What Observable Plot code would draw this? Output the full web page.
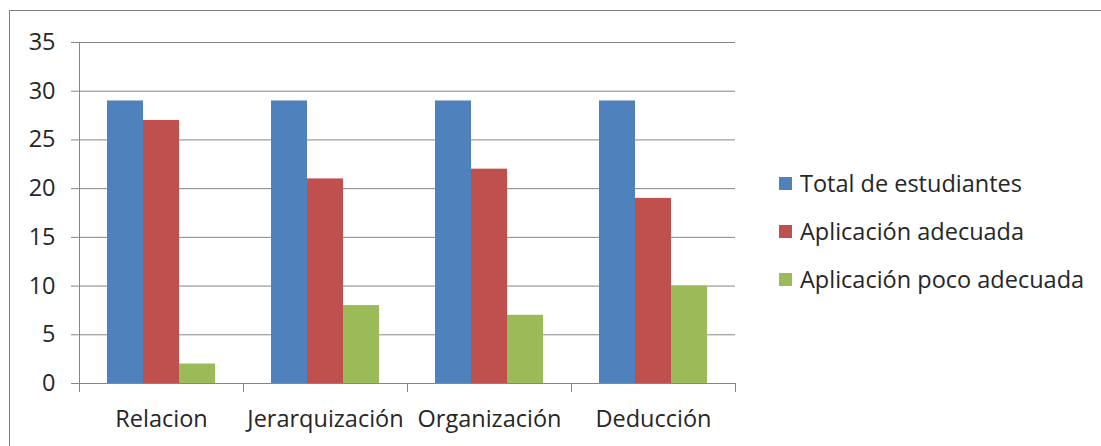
<!DOCTYPE html>
<html><head><meta charset="utf-8">
<script src="https://cdn.jsdelivr.net/npm/d3@7"></script>
<script src="https://cdn.jsdelivr.net/npm/@observablehq/plot@0.6"></script>
<style>
body{margin:0;background:#fff;font-family:"Open Sans",sans-serif;}
#wrap{position:relative;width:1101px;height:446px;overflow:hidden;background:#fff;}
#border{position:absolute;left:9px;top:10px;width:1200px;height:600px;border:1px solid #7f7f7f;box-sizing:border-box;}
#chart{position:absolute;left:0;top:0;}
#legend{position:absolute;left:779px;top:159px;color:#262626;font-size:23.5px;}
.item{display:flex;align-items:center;height:48px;white-space:nowrap;}
.sw{width:13px;height:13px;margin-right:8px;flex:none;}
</style></head>
<body><div id="wrap"><div id="border"></div><div id="chart"></div><div id="legend"></div></div>
<script>
const categories = ["Relacion", "Jerarquización", "Organización", "Deducción"];
const seriesNames = ["Total de estudiantes", "Aplicación adecuada", "Aplicación poco adecuada"];
const totalValues = [29, 29, 29, 29];
const adecuadaValues = [27, 21, 22, 19];
const pocoValues = [2, 8, 7, 10];
const yTicks = [0, 5, 10, 15, 20, 25, 30, 35];
const colors = ["#4F81BD", "#C0504D", "#9BBB59"];

const seriesValues = [totalValues, adecuadaValues, pocoValues];
const data = categories.flatMap((c, i) => seriesNames.map((s, j) => ({cat: c, series: s, value: seriesValues[j][i]})));

const H = 446, MT = 42, MB = 63;
const grey = "#868686";
const FS = 23.5;
const chart = Plot.plot({
  width: 745, height: H,
  marginLeft: 78, marginRight: 10, marginTop: MT, marginBottom: MB,
  style: {fontFamily: "'Open Sans', sans-serif", fontSize: FS + "px", color: "#262626", background: "transparent", overflow: "visible"},
  fx: {domain: categories, padding: 0, label: null, axis: null},
  x: {domain: seriesNames, paddingInner: 0, paddingOuter: 0.75, axis: null},
  y: {domain: [0, 35], ticks: yTicks},
  color: {domain: seriesNames, range: colors},
  marks: [
    Plot.gridY(yTicks, {stroke: grey, strokeOpacity: 1}),
    Plot.axisY(yTicks, {tickSize: 8, tickPadding: 16, stroke: grey, strokeOpacity: 1, label: null, fontSize: FS, fill: "#262626"}),
    Plot.axisFx({anchor: "bottom", tickSize: 0, tickPadding: 27, label: null, fontSize: FS, fill: "#262626"}),
    Plot.barY(data, {fx: "cat", x: "series", y: "value", fill: "series"}),
    Plot.frame({anchor: "left", facet: "super", stroke: grey, insetBottom: -8}),
    Plot.frame({anchor: "left", stroke: grey, insetTop: H - MT - MB, insetBottom: -8}),
    Plot.frame({anchor: "right", stroke: grey, insetTop: H - MT - MB, insetBottom: -8})
  ]
});
document.getElementById("chart").appendChild(chart);

const legend = document.getElementById("legend");
seriesNames.forEach((s, j) => {
  const it = document.createElement("div"); it.className = "item";
  const sw = document.createElement("div"); sw.className = "sw"; sw.style.background = colors[j];
  const t = document.createElement("span"); t.textContent = s;
  it.appendChild(sw); it.appendChild(t); legend.appendChild(it);
});
</script></body></html>
